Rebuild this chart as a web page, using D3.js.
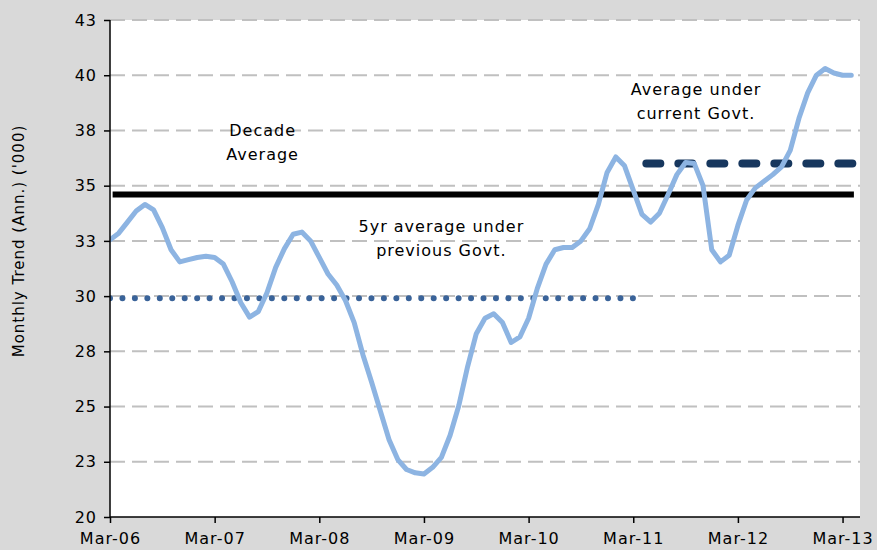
<!DOCTYPE html>
<html>
<head>
<meta charset="utf-8">
<script src="https://cdn.jsdelivr.net/npm/d3@7"></script>
<style>
  body { margin: 0; background: #d9d9d9; }
  svg text { font-family: "DejaVu Sans", sans-serif; fill: #000; }
</style>
</head>
<body>
<svg width="877" height="550"></svg>
<script>
// months counted from Mar-06 (0) ; one value per month up to Apr-13
const trend = [
    32.55, 32.85, 33.35, 33.85, 34.15, 33.9, 33.1, 32.1, 31.55, 31.65, 31.75, 31.8,
    31.75, 31.45, 30.65, 29.7, 29.05, 29.3, 30.15, 31.3, 32.15, 32.8, 32.9, 32.5,
    31.75, 31.0, 30.5, 29.8, 28.8, 27.35, 26.1, 24.8, 23.5, 22.6, 22.15, 22.0,
    21.95, 22.25, 22.7, 23.7, 25.05, 26.8, 28.3, 29.0, 29.2, 28.8, 27.9, 28.15,
    29.0, 30.35, 31.45, 32.1, 32.2, 32.2, 32.5, 33.05, 34.15, 35.6, 36.3, 35.9,
    34.8, 33.7, 33.35, 33.75, 34.6, 35.5, 36.05, 36.0, 35.0, 32.1, 31.55, 31.85,
    33.2, 34.35, 34.9, 35.2, 35.5, 35.85, 36.6, 38.05, 39.2, 40.0, 40.3, 40.1,
    40.0, 40.0
];

const xTicks = [0, 12, 24, 36, 48, 60, 72, 84];
const xTickLabels = ["Mar-06", "Mar-07", "Mar-08", "Mar-09", "Mar-10", "Mar-11", "Mar-12", "Mar-13"];
const yTicks = [20, 22.5, 25, 27.5, 30, 32.5, 35, 37.5, 40, 42.5];
const yTickLabels = ["20", "23", "25", "28", "30", "33", "35", "38", "40", "43"];

// averages: [value, from month, to month]
const decadeAvg = [34.6, 0.3, 85.3];
const prevGovtAvg = [29.9, 0, 60];
const currGovtAvg = [36.0, 61.5, 86];

const notes = [
    { lines: ["Decade", "Average"], m: 17.5, v: 37.25 },
    { lines: ["5yr average under", "previous Govt."], m: 38, v: 32.9 },
    { lines: ["Average under", "current Govt."], m: 67.2, v: 39.1 }
];

const margin = { top: 20, right: 17, bottom: 33, left: 110 };
const width = 877, height = 550;

const svg = d3.select("svg");

const x = d3.scaleLinear().domain([0, 86]).range([margin.left, width - margin.right]);
const y = d3.scaleLinear().domain([20, 42.5]).range([height - margin.bottom, margin.top]);

// plot area
svg.append("rect")
    .attr("x", x(0)).attr("y", y(42.5))
    .attr("width", x(86) - x(0)).attr("height", y(20) - y(42.5))
    .attr("fill", "#fff");

// gridlines
svg.append("g").selectAll("line")
    .data(yTicks.filter(d => d > 20))
    .enter().append("line")
    .attr("x1", x(0)).attr("x2", x(86))
    .attr("y1", d => y(d)).attr("y2", d => y(d))
    .attr("stroke", "#c0c0c0")
    .attr("stroke-width", 2)
    .attr("stroke-dasharray", "15 7");

svg.append("clipPath").attr("id", "plot")
    .append("rect")
    .attr("x", x(0)).attr("y", y(42.5) - 5)
    .attr("width", x(86) - x(0)).attr("height", y(20) - y(42.5) + 5);

const g = svg.append("g").attr("clip-path", "url(#plot)");

// decade average
g.append("line")
    .attr("x1", x(decadeAvg[1])).attr("x2", x(decadeAvg[2]))
    .attr("y1", y(decadeAvg[0])).attr("y2", y(decadeAvg[0]))
    .attr("stroke", "#000").attr("stroke-width", 6);

// previous govt 5yr average
g.append("line")
    .attr("x1", x(prevGovtAvg[1])).attr("x2", x(prevGovtAvg[2]))
    .attr("y1", y(prevGovtAvg[0])).attr("y2", y(prevGovtAvg[0]))
    .attr("stroke", "#3a6399").attr("stroke-width", 6)
    .attr("stroke-linecap", "round")
    .attr("stroke-dasharray", "0 12.45");

// current govt average
g.append("line")
    .attr("x1", x(currGovtAvg[1])).attr("x2", x(currGovtAvg[2]))
    .attr("y1", y(currGovtAvg[0])).attr("y2", y(currGovtAvg[0]))
    .attr("stroke", "#17375e").attr("stroke-width", 8)
    .attr("stroke-linecap", "round")
    .attr("stroke-dasharray", "14 18");

// monthly trend
const line = d3.line()
    .x((d, i) => x(i))
    .y(d => y(d));

g.append("path")
    .datum(trend)
    .attr("d", line)
    .attr("fill", "none")
    .attr("stroke", "#8db4e2")
    .attr("stroke-width", 5)
    .attr("stroke-linejoin", "round")
    .attr("stroke-linecap", "round");

// axes
const yAxis = d3.axisLeft(y)
    .tickValues(yTicks)
    .tickFormat((d, i) => yTickLabels[i])
    .tickSize(6)
    .tickPadding(7);

const xAxis = d3.axisBottom(x)
    .tickValues(xTicks)
    .tickFormat((d, i) => xTickLabels[i])
    .tickSize(6)
    .tickPadding(10);

const ya = svg.append("g")
    .attr("transform", "translate(" + x(0) + ",0)")
    .call(yAxis);

const xa = svg.append("g")
    .attr("transform", "translate(0," + y(20) + ")")
    .call(xAxis);

[ya, xa].forEach(a => {
    a.select(".domain").attr("stroke", "#000").attr("stroke-width", 1.5);
    a.selectAll(".tick line").attr("stroke", "#000").attr("stroke-width", 1.5);
    a.selectAll(".tick text")
        .attr("font-family", "DejaVu Sans")
        .attr("font-size", 16)
        .attr("letter-spacing", "1px")
        .attr("fill", "#000");
});
ya.select(".domain").attr("d", "M0," + y(42.5) + "V" + y(20));
xa.select(".domain").attr("d", "M" + x(0) + ",0H" + x(86));

// y axis title
svg.append("text")
    .attr("transform", "translate(24,241) rotate(-90)")
    .attr("text-anchor", "middle")
    .attr("font-size", 15)
    .attr("letter-spacing", "1px")
    .text("Monthly Trend (Ann.) ('000)");

// annotations
notes.forEach(n => {
    const t = svg.append("text")
        .attr("text-anchor", "middle")
        .attr("font-size", 16)
        .attr("letter-spacing", "1px");
    n.lines.forEach((s, i) => {
        t.append("tspan")
            .attr("x", x(n.m))
            .attr("y", y(n.v) + i * 24)
            .text(s);
    });
});
</script>
</body>
</html>
